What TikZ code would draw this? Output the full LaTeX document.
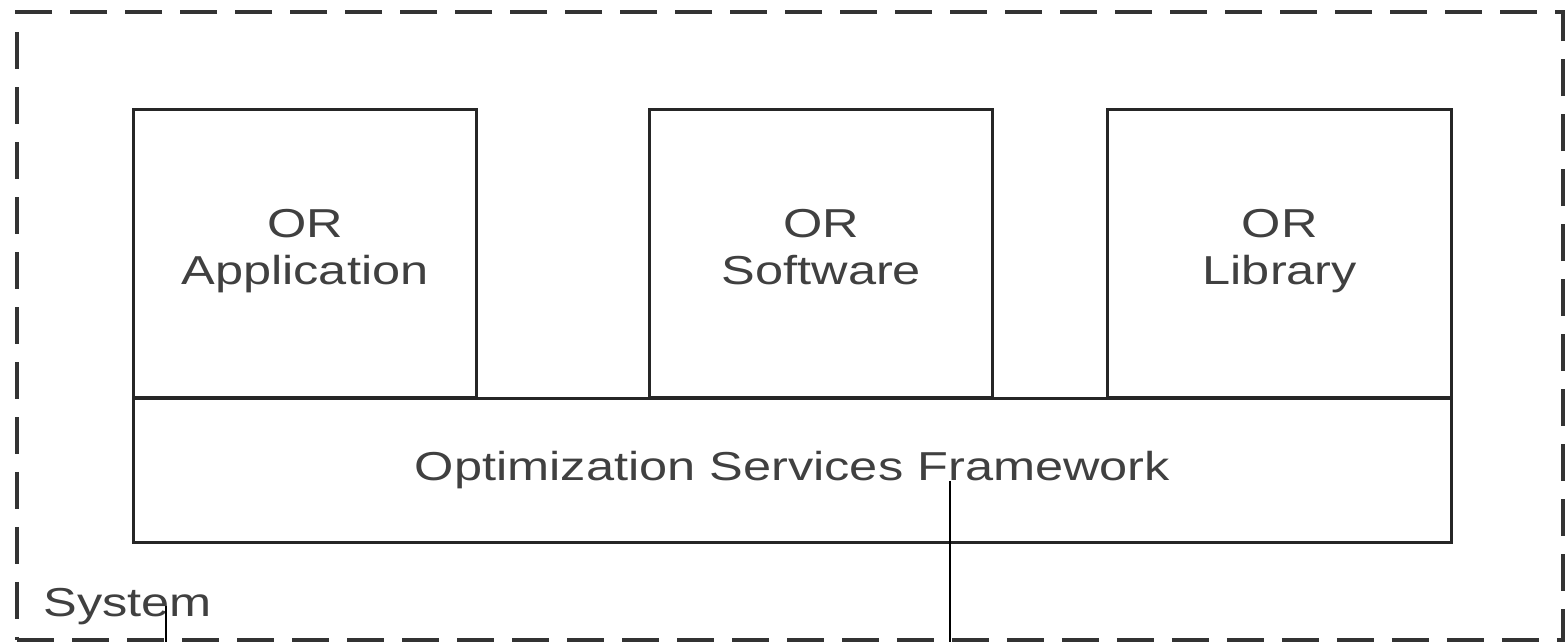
\documentclass[tikz,border=0pt]{standalone}
\usepackage{fontspec}
\setmainfont{Liberation Sans}[FakeStretch=1.25]
\usetikzlibrary{positioning}

\tikzset{bloc/.style={draw=black!85,line width=0.06cm,minimum width=6.88cm,minimum height=5.78cm,
align=center,text=black!75,font=\fontsize{23}{26.7}\selectfont,inner sep=0pt},
cadre/.style={draw=black!80,line width=0.08cm,dash pattern=on 0.74cm off 0.36cm,
minimum width=30.92cm,minimum height=12.56cm,inner sep=0pt},
renvoi/.style={draw=black,line width=0.025cm}}

\begin{document}
\begin{tikzpicture}[x=0.02cm,y=-0.02cm]
\useasboundingbox (0,0) rectangle (1566,642);
\node [cadre] (systeme) at (790,326) {};
\node [bloc] (application) at (305,253.5) {OR\\Application\strut};
\node [bloc,minimum width=6.86cm,right=3.4cm of application] (logiciel) {OR\\Software\strut};
\node [bloc,right=2.24cm of logiciel] (bibliotheque) {OR\\Library\strut};
\node [bloc,minimum width=26.38cm,minimum height=2.9cm] (cadriciel) at (792.5,470.5) {Optimization Services Framework};
\node [anchor=base west,inner sep=0pt,text=black!75,font=\fontsize{23}{26}\selectfont] (etiquette) at (43,616) {System};
% renvois vers le bas
\coordinate (pied1) at (166,642);
\coordinate (pied2) at (950,642);
\draw [renvoi] (etiquette.center -| pied1) -- (pied1);
\draw [renvoi] (cadriciel.base -| pied2) -- (pied2);
\end{tikzpicture}
\end{document}
